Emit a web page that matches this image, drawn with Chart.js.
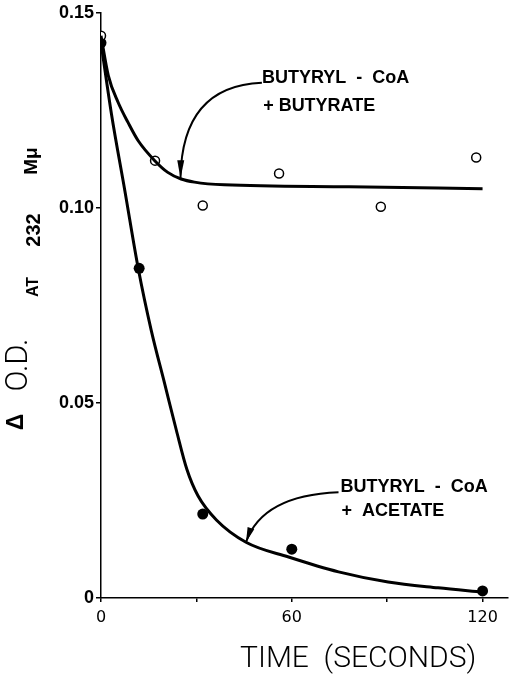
<!DOCTYPE html>
<html>
<head>
<meta charset="utf-8">
<script src="https://cdn.jsdelivr.net/npm/chart.js@4.4.1/dist/chart.umd.min.js"></script>
<style>
  html, body { margin: 0; padding: 0; background: #fff; }
  #wrap { width: 514px; height: 678px; }
</style>
</head>
<body>
<div id="wrap"><canvas id="myChart" width="514" height="678"></canvas></div>
<script>
// measured points (seconds, delta O.D. at 232 mu)
const butyrateTime = [0, 17, 32, 56, 88, 118];
const butyrateOD = [0.1441, 0.1121, 0.1006, 0.1088, 0.1003, 0.1129];
const acetateTime = [0, 12, 32, 60, 120];
const acetateOD = [0.1423, 0.0845, 0.0215, 0.0125, 0.0018];

// hand drawn curves
const butyrateCurveTime = [0, 2.3, 5.4, 8.5, 11.7, 16.9, 21, 25.2, 29.4, 38.8, 78, 120];
const butyrateCurveOD = [0.1441, 0.1339, 0.1270, 0.1219, 0.1172, 0.1121, 0.1091, 0.1074, 0.1066, 0.1059, 0.1054, 0.1049];
const acetateCurveTime = [0, 3.3, 7.5, 11.7, 15.8, 20, 23.7, 27, 30.5, 36.3, 45.6, 59, 74.7, 90.3, 106, 120];
const acetateCurveOD = [0.1423, 0.1240, 0.1044, 0.0845, 0.0686, 0.0550, 0.0430, 0.0330, 0.0262, 0.0200, 0.0143, 0.0105, 0.0067, 0.0041, 0.0026, 0.0015];

const xTicks = [0, 60, 120];
const yTicks = [0, 0.05, 0.10, 0.15];

// labels with arrows: text lines, text anchor, arrow start / controls / tip (data units)
const butyrateLabel = ['BUTYRYL  -  CoA', '+ BUTYRATE'];
const butyrateLabelAt = [[50.6, 0.1334], [51.0, 0.1262]];
const butyrateArrow = [[50.6, 0.1321], [35.6, 0.1316], [25.3, 0.1249], [25.0, 0.1076]];
const acetateLabel = ['BUTYRYL  -  CoA', '+  ACETATE'];
const acetateLabelAt = [[75.3, 0.0284], [75.6, 0.0223]];
const acetateArrow = [[74.7, 0.0271], [59.1, 0.0266], [49.1, 0.0225], [45.6, 0.0143]];

const yTitleParts = ['\u0394', 'O.D.', 'AT', '232', 'M\u03bc'];
const xTitle = 'TIME  (SECONDS)';

function pts(xs, ys) { return xs.map((x, i) => ({ x: x, y: ys[i] })); }

const annotations = {
  id: 'annotations',
  afterDraw(chart) {
    const ctx = chart.ctx;
    const sx = chart.scales.x, sy = chart.scales.y;
    const px = p => [sx.getPixelForValue(p[0]), sy.getPixelForValue(p[1])];
    ctx.save();
    ctx.fillStyle = '#000';
    ctx.strokeStyle = '#000';

    function arrow(a, len) {
      const [p0, p1, p2, p3] = a.map(px);
      ctx.lineWidth = 2;
      ctx.beginPath();
      ctx.moveTo(p0[0], p0[1]);
      ctx.bezierCurveTo(p1[0], p1[1], p2[0], p2[1], p3[0], p3[1]);
      ctx.stroke();
      const ang = Math.atan2(p3[1] - p2[1], p3[0] - p2[0]);
      const hw = 3.5;
      ctx.beginPath();
      ctx.moveTo(p3[0], p3[1]);
      ctx.lineTo(p3[0] - len * Math.cos(ang) - hw * Math.sin(ang), p3[1] - len * Math.sin(ang) + hw * Math.cos(ang));
      ctx.lineTo(p3[0] - len * Math.cos(ang) + hw * Math.sin(ang), p3[1] - len * Math.sin(ang) - hw * Math.cos(ang));
      ctx.closePath();
      ctx.fill();
    }
    arrow(butyrateArrow, 18);
    arrow(acetateArrow, 15);

    ctx.font = 'bold 18px "Liberation Sans", Arial, sans-serif';
    ctx.textAlign = 'left';
    ctx.textBaseline = 'middle';
    const widths = [148, 112];
    butyrateLabel.forEach((t, i) => {
      const p = px(butyrateLabelAt[i]);
      ctx.fillText(t, p[0], p[1], widths[i]);
    });
    const widths2 = [148, 106];
    acetateLabel.forEach((t, i) => {
      const p = px(acetateLabelAt[i]);
      ctx.fillText(t, p[0], p[1], widths2[i]);
    });

    // x axis title
    ctx.font = '300 30px Roboto, "Liberation Sans", sans-serif';
    ctx.textAlign = 'left';
    ctx.fillText(xTitle, 240, 659, 250);

    // y axis title, rotated, mixed sizes
    const fonts = ['bold 23px "Liberation Sans", sans-serif', '300 31px Roboto, sans-serif',
      'bold 16px "Liberation Sans", sans-serif', 'bold 20px "Liberation Sans", sans-serif',
      'bold 19px "Liberation Sans", sans-serif'];
    const cy = [422, 365, 287, 230, 161];
    const cx = [17, 19, 34, 34, 32];
    yTitleParts.forEach((t, i) => {
      ctx.save();
      ctx.translate(cx[i], cy[i]);
      ctx.rotate(-Math.PI / 2);
      ctx.font = fonts[i];
      ctx.textAlign = 'center';
      ctx.textBaseline = 'middle';
      ctx.fillText(t, 0, 0);
      ctx.restore();
    });
    ctx.restore();
  }
};

const ctx = document.getElementById('myChart').getContext('2d');
const myChart = new Chart(ctx, {
  type: 'scatter',
  data: {
    datasets: [
      {
        label: 'butyrate curve',
        data: pts(butyrateCurveTime, butyrateCurveOD),
        showLine: true,
        borderColor: '#000',
        borderWidth: 3,
        pointRadius: 0,
        cubicInterpolationMode: 'monotone'
      },
      {
        label: 'acetate curve',
        data: pts(acetateCurveTime, acetateCurveOD),
        showLine: true,
        borderColor: '#000',
        borderWidth: 3,
        pointRadius: 0,
        cubicInterpolationMode: 'monotone'
      },
      {
        label: 'Butyryl-CoA + butyrate',
        data: pts(butyrateTime, butyrateOD),
        pointRadius: 4.5,
        pointBackgroundColor: '#fff',
        pointBorderColor: '#000',
        pointBorderWidth: 1.5
      },
      {
        label: 'Butyryl-CoA + acetate',
        data: pts(acetateTime, acetateOD),
        pointRadius: 5.5,
        pointBackgroundColor: '#000',
        pointBorderColor: '#000',
        pointBorderWidth: 0
      }
    ]
  },
  options: {
    responsive: false,
    animation: false,
    events: [],
    layout: { padding: { top: 12, right: 4, left: 0, bottom: 0 } },
    plugins: { legend: { display: false }, tooltip: { enabled: false } },
    scales: {
      x: {
        type: 'linear',
        min: 0,
        max: 128,
        afterFit: s => { s.height = 80; },
        border: { color: '#000', width: 1.5 },
        grid: { drawOnChartArea: false, color: '#000', tickLength: 4, lineWidth: 1.5 },
        ticks: {
          stepSize: 30,
          includeBounds: false,
          maxRotation: 0,
          padding: 6,
          color: '#000',
          font: { family: '"DejaVu Sans"', size: 16 },
          callback: v => xTicks.includes(v) ? String(v) : ''
        }
      },
      y: {
        type: 'linear',
        min: 0,
        max: 0.15,
        afterFit: s => { s.width = 101; },
        border: { color: '#000', width: 1.5 },
        grid: { drawOnChartArea: false, color: '#000', tickLength: 5, lineWidth: 1.5 },
        ticks: {
          stepSize: 0.05,
          padding: 2,
          color: '#000',
          font: { family: '"Liberation Sans"', size: 18, weight: 'bold' },
          callback: v => {
            const t = yTicks.find(k => Math.abs(k - v) < 1e-6);
            if (t === undefined) return '';
            return t === 0 ? '0' : t.toFixed(2);
          }
        }
      }
    }
  },
  plugins: [annotations]
});
</script>
</body>
</html>
